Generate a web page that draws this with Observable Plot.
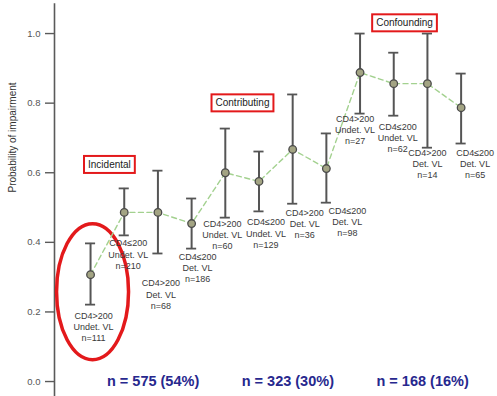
<!DOCTYPE html>
<html>
<head>
<meta charset="utf-8">
<script src="https://cdn.jsdelivr.net/npm/d3@7"></script>
<script src="https://cdn.jsdelivr.net/npm/@observablehq/plot@0.6"></script>
<style>
  html, body { margin: 0; padding: 0; background: #fff; }
  #chart { width: 497px; height: 396px; }
  svg { font-family: "Liberation Sans", Arial, sans-serif; }
</style>
</head>
<body>
<div id="chart"></div>
<script>
// ---- data ----
const cd4 = ["CD4>200", "CD4≤200", "CD4>200", "CD4≤200", "CD4>200", "CD4≤200", "CD4>200", "CD4≤200", "CD4>200", "CD4≤200", "CD4>200", "CD4≤200"];
const vl = ["Undet. VL", "Undet. VL", "Det. VL", "Det. VL", "Undet. VL", "Undet. VL", "Det. VL", "Det. VL", "Undet. VL", "Undet. VL", "Det. VL", "Det. VL"];
const nObs = [111, 210, 68, 186, 60, 129, 36, 98, 27, 62, 14, 65];
const prob = [0.307, 0.486, 0.486, 0.454, 0.600, 0.575, 0.667, 0.612, 0.888, 0.856, 0.856, 0.787];
const lower = [0.221, 0.420, 0.368, 0.382, 0.471, 0.489, 0.511, 0.514, 0.770, 0.764, 0.672, 0.684];
const upper = [0.397, 0.555, 0.606, 0.526, 0.727, 0.661, 0.825, 0.713, 1.000, 0.945, 1.000, 0.885];
const groupNames = ["Incidental", "Contributing", "Confounding"];
const groupTotals = ["n = 575 (54%)", "n = 323 (30%)", "n = 168 (16%)"];
const yTicks = [0.0, 0.2, 0.4, 0.6, 0.8, 1.0];

// ---- layout (label nudges in px, annotation anchors) ----
const labelDx = [3, 4, 3, 6, -3, 7, 12, 21, -5, 4, 0, 14];
const labelDy = [6, 3, 25, 3, 1, 6, 4, 3, 0, 6, 0, 4];
const boxAnchor = [{x: 1.56, y: 0.623}, {x: 5.51, y: 0.80}, {x: 10.32, y: 1.03}];

const data = prob.map((p, i) => ({
  i: i + 1, p, lo: lower[i], hi: upper[i],
  label: `${cd4[i]}\n${vl[i]}\nn=${nObs[i]}`
}));
const groups = groupNames.map((g, k) => ({
  name: g, total: groupTotals[k],
  mid: d3.mean(data.slice(k * 4, k * 4 + 4), d => d.i),
  bx: boxAnchor[k].x, by: boxAnchor[k].y
}));

const xDomain = [-0.07, 13.08];
const yDomain = [-0.043, 1.095];
const capHalf = 0.15;

// ellipse symbol (px)
const ellipseSymbol = {
  draw(ctx) {
    const rx = 36, ry = 68, k = 0.5523;
    ctx.moveTo(rx, 0);
    ctx.bezierCurveTo(rx, ry * k, rx * k, ry, 0, ry);
    ctx.bezierCurveTo(-rx * k, ry, -rx, ry * k, -rx, 0);
    ctx.bezierCurveTo(-rx, -ry * k, -rx * k, -ry, 0, -ry);
    ctx.bezierCurveTo(rx * k, -ry, rx, -ry * k, rx, 0);
    ctx.closePath();
  }
};

const labelMarks = data.map((d, idx) => Plot.text([d], {
  x: "i", y: "lo", text: "label",
  lineAnchor: "top", lineHeight: 1.25,
  dx: labelDx[idx], dy: labelDy[idx],
  fontSize: 9, fill: "#3a3a3a"
}));

const chart = Plot.plot({
  width: 497,
  height: 396,
  marginLeft: 54,
  marginRight: 0,
  marginTop: 0,
  marginBottom: 0,
  style: {fontFamily: "Liberation Sans, Arial, sans-serif", background: "#fff"},
  x: {domain: xDomain, axis: null},
  y: {domain: yDomain, axis: null},
  marks: [
    // y axis
    Plot.ruleX([xDomain[0]], {y1: yDomain[0], y2: 1.086, stroke: "#5a5a5a", strokeWidth: 1.6}),
    Plot.axisY(yTicks, {
      tickFormat: d3.format(".1f"), tickSize: 9, tickPadding: 5,
      stroke: "#5a5a5a", strokeWidth: 1.4, fill: "#555", fontSize: 9.5, label: null
    }),
    Plot.text(["Probability of impairment"], {
      frameAnchor: "left", rotate: -90, dx: -42, dy: -6,
      fontSize: 10, fill: "#333"
    }),
    // red ellipse around the first point
    Plot.dot([data[0]], {x: "i", y: "lo", dx: 2, dy: -13, symbol: ellipseSymbol, r: 10,
      stroke: "#e3191b", strokeWidth: 3.5, fill: "none"}),
    // dashed connecting line
    Plot.line(data, {x: "i", y: "p", stroke: "#a3d18f", strokeWidth: 1.4, strokeDasharray: "5,3.5"}),
    // error bars
    Plot.ruleX(data, {x: "i", y1: "lo", y2: "hi", stroke: "#555", strokeWidth: 2}),
    Plot.ruleY(data, {y: "hi", x1: d => d.i - capHalf, x2: d => d.i + capHalf, stroke: "#555", strokeWidth: 1.8}),
    Plot.ruleY(data, {y: "lo", x1: d => d.i - capHalf, x2: d => d.i + capHalf, stroke: "#555", strokeWidth: 1.8}),
    // points
    Plot.dot(data, {x: "i", y: "p", r: 3.8, fill: "#a3a483", stroke: "#4a4a4a", strokeWidth: 1.3}),
    // point labels
    ...labelMarks,
    // category annotations
    Plot.text(groups, {x: "bx", y: "by", text: "name", fontSize: 10, fill: "#222",
      className: "catbox"}),
    // group totals
    Plot.text(groups, {x: "mid", y: 0, text: "total", dx: 12, fontSize: 14.5, fontWeight: "bold", fill: "#27288e"})
  ]
});

document.getElementById("chart").appendChild(chart);

// boxes around category annotations (sized from rendered text)
document.querySelectorAll("g.catbox text, .catbox text").forEach(t => {
  const b = t.getBBox();
  const ctm = t.getAttribute("transform");
  const r = document.createElementNS("http://www.w3.org/2000/svg", "rect");
  r.setAttribute("x", b.x - 4);
  r.setAttribute("y", b.y - 3);
  r.setAttribute("width", b.width + 8);
  r.setAttribute("height", b.height + 6);
  r.setAttribute("fill", "#fff");
  r.setAttribute("stroke", "#e3191b");
  r.setAttribute("stroke-width", "2");
  if (ctm) r.setAttribute("transform", ctm);
  t.parentNode.insertBefore(r, t);
});
</script>
</body>
</html>
